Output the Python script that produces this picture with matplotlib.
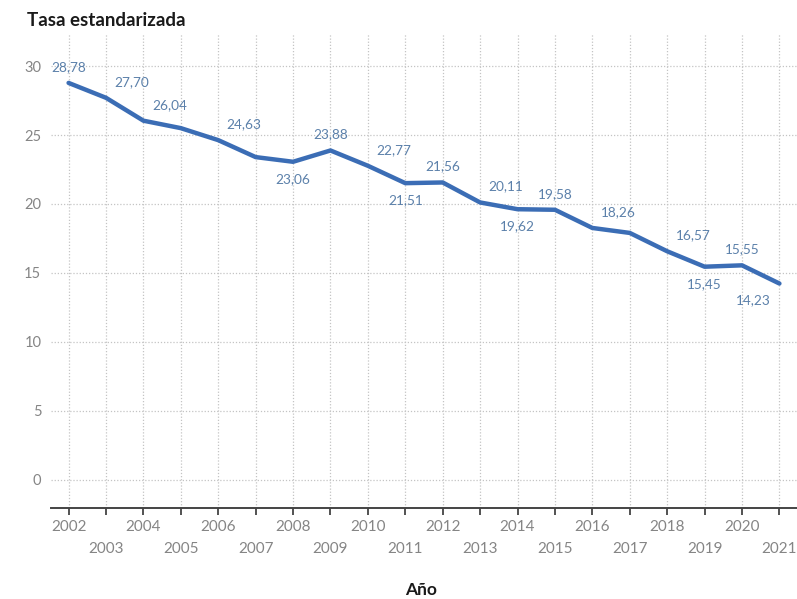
import matplotlib
matplotlib.use("Agg")
import matplotlib.pyplot as plt
from matplotlib.ticker import FixedLocator

# Standardised rate by year
years = [2002, 2003, 2004, 2005, 2006, 2007, 2008, 2009, 2010, 2011,
         2012, 2013, 2014, 2015, 2016, 2017, 2018, 2019, 2020, 2021]
rates = [28.78, 27.70, 26.04, 25.50, 24.63, 23.40, 23.06, 23.88, 22.77, 21.51,
         21.56, 20.11, 19.62, 19.58, 18.26, 17.90, 16.57, 15.45, 15.55, 14.23]
# years whose value is printed next to the line
labelled_years = [2002, 2003, 2004, 2006, 2008, 2009, 2010, 2011, 2012,
                  2013, 2014, 2015, 2016, 2018, 2019, 2020, 2021]
y_ticks = [0, 5, 10, 15, 20, 25, 30]

# where each value label sits relative to its point
placement = {2002: "a", 2003: "ar", 2004: "ar", 2006: "ar", 2008: "b",
             2009: "a", 2010: "ar", 2011: "b", 2012: "a", 2013: "ar",
             2014: "b", 2015: "a", 2016: "ar", 2018: "ar", 2019: "b",
             2020: "a", 2021: "bl"}
offsets = {"a": (0, 16), "ar": (26, 16), "b": (0, -17), "bl": (-26, -17)}

plt.rcParams["font.family"] = ["Lato", "DejaVu Sans"]

W, H = 797, 599
fig = plt.figure(figsize=(W / 100, H / 100), dpi=100)
ax = fig.add_axes([51 / W, 91 / H, 1 - 51 / W, (508 - 33) / H])

line_color = "#3b6db5"
label_color = "#5b80aa"
tick_color = "#858585"

ax.plot(years, rates, color=line_color, lw=3.2, solid_joinstyle="round",
        solid_capstyle="round", zorder=3)

for yr in labelled_years:
    v = rates[years.index(yr)]
    dx, dy = offsets[placement[yr]]
    ax.annotate(f"{v:.2f}".replace(".", ","), (yr, v), xytext=(dx, dy),
                textcoords="offset pixels", ha="center", va="center",
                fontsize=9.8, color=label_color, zorder=4)

ax.set_xlim(2001.53, 2021.47)
ax.set_ylim(-2.05, 32.4)

even_years = [y for y in years if y % 2 == 0]
odd_years = [y for y in years if y % 2 == 1]
ax.xaxis.set_major_locator(FixedLocator(even_years))
ax.xaxis.set_minor_locator(FixedLocator(odd_years))
ax.set_xticklabels([str(y) for y in even_years])
ax.set_xticklabels([str(y) for y in odd_years], minor=True)
ax.tick_params(axis="x", which="both", direction="out", length=5, width=1.3,
               color="#444444", labelcolor=tick_color, labelsize=11)
ax.tick_params(axis="x", which="major", pad=3.5)
ax.tick_params(axis="x", which="minor", pad=19.5)

ax.set_yticks(y_ticks)
ax.set_yticklabels([str(t) for t in y_ticks])
ax.tick_params(axis="y", length=0, pad=7, labelcolor=tick_color, labelsize=10.5)

ax.grid(True, axis="y", which="major", linestyle=(0, (1, 1.5)),
        color="#c4c4c4", lw=0.9, zorder=0)
ax.grid(True, axis="x", which="both", linestyle=(0, (1, 1.5)),
        color="#c4c4c4", lw=0.9, zorder=0)

for side in ("left", "right", "top"):
    ax.spines[side].set_visible(False)
ax.spines["bottom"].set_color("#444444")
ax.spines["bottom"].set_linewidth(1.4)

fig.text(27 / W, 1 - 20 / H, "Tasa estandarizada", fontsize=13.5,
         fontweight="bold", color="#1a1a1a", ha="left", va="center")
fig.text(421 / W, 1 - 590 / H, "Año", fontsize=12.5, fontweight="bold",
         color="#1a1a1a", ha="center", va="center")

fig.savefig("out.png", dpi=100)
